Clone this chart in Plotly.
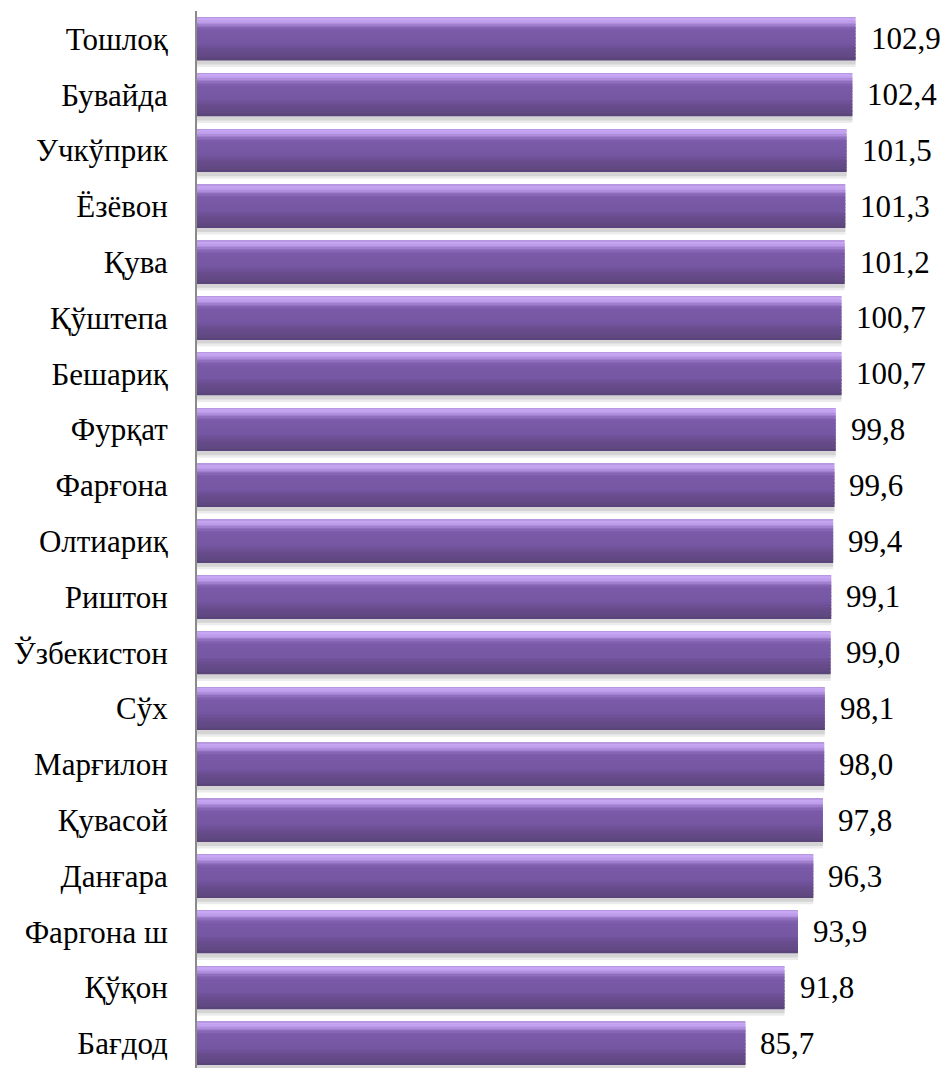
import plotly.graph_objects as go
import numpy as np

categories = ["Тошлоқ", "Бувайда", "Учкўприк", "Ёзёвон", "Қува", "Қўштепа", "Бешариқ",
              "Фурқат", "Фарғона", "Олтиариқ", "Риштон", "Ўзбекистон", "Сўх", "Марғилон",
              "Қувасой", "Данғара", "Фаргона ш", "Қўқон", "Бағдод"]
values = [102.9, 102.4, 101.5, 101.3, 101.2, 100.7, 100.7, 99.8, 99.6, 99.4, 99.1,
          99.0, 98.1, 98.0, 97.8, 96.3, 93.9, 91.8, 85.7]
value_labels = [f"{v:.1f}".replace(".", ",") for v in values]

FONT = "Liberation Serif"
BW = 0.77  # bar thickness in category units

fig = go.Figure()

# soft shadow under each bar
for off, col in [(0.12, "#ececec"), (0.075, "#d4d4d4")]:
    fig.add_trace(go.Bar(x=values, y=categories, orientation="h", width=BW,
                         offset=-BW / 2 + off, marker=dict(color=col, line=dict(width=0)),
                         hoverinfo="skip", showlegend=False))

# vertical gradient built from stacked bands
stops = [(0.00, "#a98bd2"), (0.04, "#c8a8f4"), (0.12, "#bd9dea"), (0.22, "#8e6dbe"),
         (0.30, "#7b5ba9"), (0.62, "#7556a2"), (0.76, "#684c8d"), (0.94, "#604881"),
         (1.00, "#584276")]

def hex2rgb(h):
    h = h.lstrip("#")
    return np.array([int(h[i:i + 2], 16) for i in (0, 2, 4)], dtype=float)

def color_at(f):
    for (f0, c0), (f1, c1) in zip(stops[:-1], stops[1:]):
        if f0 <= f <= f1:
            t = 0 if f1 == f0 else (f - f0) / (f1 - f0)
            c = hex2rgb(c0) * (1 - t) + hex2rgb(c1) * t
            return "rgb(%d,%d,%d)" % tuple(np.round(c))
    return stops[-1][1]

n_bands = 30
edges = np.linspace(0, 1, n_bands + 1)
for i in range(n_bands):
    f0, f1 = edges[i], edges[i + 1]
    fig.add_trace(go.Bar(x=values, y=categories, orientation="h",
                         width=BW * (f1 - f0) * 1.02, offset=-BW / 2 + BW * f0,
                         marker=dict(color=color_at((f0 + f1) / 2), line=dict(width=0)),
                         hoverinfo="skip", showlegend=False))

for c, v, lab in zip(categories, values, value_labels):
    fig.add_annotation(x=v, y=c, text=lab, showarrow=False, xanchor="left",
                       yanchor="middle", xshift=13,
                       font=dict(family=FONT, size=31, color="#000000"))

fig.update_layout(
    width=948, height=1068,
    margin=dict(l=197, r=15, t=11, b=0, autoexpand=False),
    barmode="overlay",
    plot_bgcolor="white", paper_bgcolor="white",
    xaxis=dict(range=[0, 115], visible=False, fixedrange=True, automargin=False),
    yaxis=dict(type="category", range=[18.44, -0.5], autorange=False, automargin=False,
               fixedrange=True,
               showline=True, linecolor="#8a8a8a", linewidth=2,
               showgrid=False, zeroline=False, ticks="", ticklabelstandoff=21,
               tickfont=dict(family=FONT, size=31, color="#000000")),
    font=dict(family=FONT),
)

fig.write_html("out.html", config={"displayModeBar": False},
               post_script="document.body.style.margin='0';document.body.style.overflow='hidden';")
